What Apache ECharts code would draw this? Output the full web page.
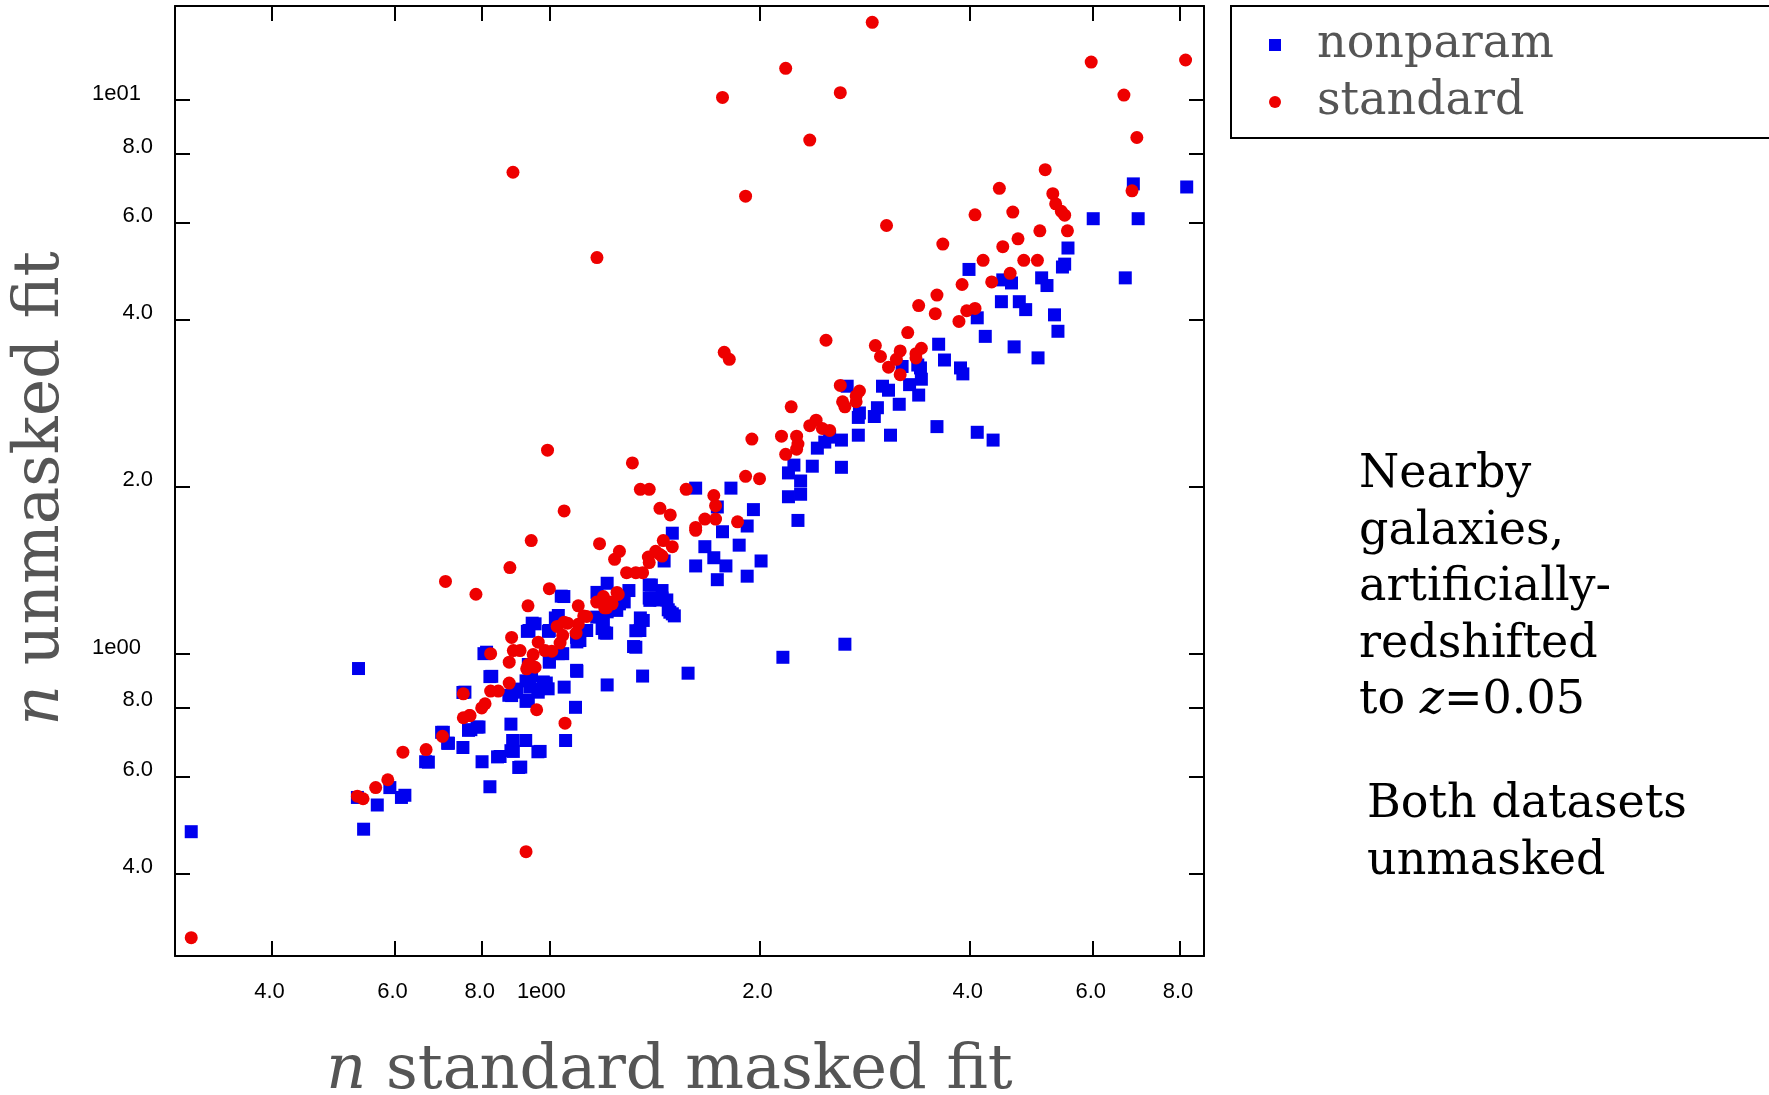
<!DOCTYPE html>
<html><head><meta charset="utf-8">
<script src="https://cdn.jsdelivr.net/npm/echarts@6/dist/echarts.min.js"></script>
<style>html,body{margin:0;padding:0;background:#fff}#c{width:1769px;height:1095px}</style>
</head><body><div id="c"></div>
<script>
// ---- data ----
const xTickValues = [0.4, 0.6, 0.8, 1, 2, 4, 6, 8];
const xTickLabels = ["4.0", "6.0", "8.0", "1e00", "2.0", "4.0", "6.0", "8.0"];
const yTickValues = [0.4, 0.6, 0.8, 1, 2, 4, 6, 8, 10];
const yTickLabels = ["4.0", "6.0", "8.0", "1e00", "2.0", "4.0", "6.0", "8.0", "1e01"];
const xRange = [0.291, 8.66];
const yRange = [0.2845, 14.77];

const nonparam = [
[6.86,7.05],[8.18,6.96],[6.01,6.10],[6.97,6.10],[5.53,5.40],[5.47,5.05],[5.43,4.99],[3.99,4.94],[6.68,4.77],[5.07,4.77],
[5.16,4.62],[4.46,4.73],[4.59,4.67],[4.44,4.32],[4.71,4.32],[4.81,4.18],[5.29,4.09],[4.10,4.04],[5.35,3.82],[4.21,3.74],
[4.63,3.58],[5.01,3.42],[3.61,3.62],[3.68,3.39],[3.88,3.28],[3.91,3.20],[3.40,3.28],[3.20,3.30],[3.37,3.32],[3.41,3.13],
[3.28,3.06],[3.38,2.93],[3.17,2.82],[3.00,3.04],[3.06,2.99],[2.67,3.04],[2.95,2.78],[2.92,2.68],[2.77,2.67],[2.78,2.72],
[3.59,2.57],[4.10,2.51],[4.32,2.43],[3.08,2.48],[2.77,2.48],[2.62,2.43],[2.52,2.46],[2.48,2.41],[2.42,2.35],[2.62,2.17],
[2.38,2.18],[2.24,2.19],[2.20,2.12],[2.29,2.05],[1.62,1.99],[1.82,1.99],[2.29,1.94],[2.20,1.92],
[1.50,1.65],[1.77,1.66],[1.92,1.70],[1.96,1.82],[1.74,1.84],[1.87,1.57],[1.67,1.56],[1.72,1.49],[1.79,1.44],[1.62,1.44],
[1.74,1.36],[1.92,1.38],[2.01,1.47],[2.27,1.74],[1.46,1.47],
[1.50,1.18],[1.48,1.20],[1.45,1.30],[1.39,1.33],[1.39,1.26],[1.42,1.26],[1.45,1.26],[1.35,1.16],[1.33,1.10],[1.32,1.03],
[1.36,0.911],[1.58,0.922],[1.21,1.34],[1.30,1.30],[1.26,1.23],[1.21,1.19],[1.17,1.29],[1.19,1.11],[1.20,1.09],[1.21,0.878],
[1.095,1.05],[1.095,0.929],[1.05,0.87],[1.09,0.80],[1.055,0.697],[1.04,1.27],[1.02,1.16],[1.03,1.0],[1.0,0.97],[0.99,0.885],
[2.16,0.985],[2.65,1.04],
[1.40,1.33],[1.393,1.248],[1.44,1.25],[1.473,1.25],[1.488,1.188],[1.51,1.17],[1.363,1.148],[1.348,1.101],[1.33,1.027],[1.208,1.089],
[1.195,1.132],[1.249,1.197],[1.28,1.24],[1.169,1.164],[1.131,1.101],[1.106,1.056],[1.045,1.0],[1.03,1.172],[1.049,1.268],[1.094,0.933],
[1.094,1.07],
[0.533,0.940],[0.307,0.477],[0.542,0.482],[0.531,0.55],[0.567,0.533],[0.591,0.573],[0.614,0.55],[0.665,0.638],[0.701,0.721],[0.715,0.689],
[0.752,0.677],[0.766,0.727],[0.788,0.737],[0.752,0.851],[0.801,0.638],[0.822,0.575],[0.806,1.0],[0.822,0.909],[0.843,0.651],[0.881,0.746],
[0.881,0.668],[0.886,0.697],[0.925,0.697],[0.904,0.623],[0.963,0.665],[0.875,0.841],[0.898,0.863],[0.926,0.820],[0.926,0.893],[0.963,0.863],
[0.981,0.885],[0.939,0.916],[0.933,0.956],[0.945,1.135],[0.930,1.097],[0.997,1.097],[1.0,0.965],[0.935,1.101],[0.954,1.132],[1.0,1.101],
[0.943,0.913],[0.938,0.87],[0.98,0.889],[0.996,0.864],[0.964,0.852],[0.933,0.823],[0.898,0.852],[0.883,0.84],[0.97,0.666],[0.85,0.652],
[0.91,0.624],[0.772,0.729],[0.793,0.737],[0.757,0.852],[0.827,0.91],[0.813,1.006],[0.888,0.666],[0.671,0.637],[0.621,0.555],[0.705,0.721],
[0.717,0.689]
];

const standard = [
[2.90,13.8],[2.18,11.4],[1.77,10.1],[2.61,10.3],[2.36,8.46],[5.97,11.7],[8.15,11.8],[6.65,10.2],[6.94,8.55],[1.17,5.19],
[0.887,7.40],[1.91,6.70],[3.04,5.93],
[5.13,7.48],[4.41,6.92],[5.26,6.77],[5.31,6.49],[5.41,6.29],[5.47,6.19],[6.83,6.85],[4.07,6.20],[4.61,6.27],[5.04,5.80],[5.52,5.80],
[4.69,5.61],[4.46,5.43],[3.66,5.49],[4.18,5.13],[4.78,5.13],[5.00,5.13],[4.57,4.86],[4.30,4.69],[3.90,4.64],[3.59,4.44],
[3.38,4.25],[3.57,4.11],[3.96,4.16],[4.07,4.20],[3.86,3.98],[3.26,3.80],[2.49,3.68],[1.78,3.50],[1.81,3.40],[2.93,3.60],
[3.18,3.52],[3.41,3.56],[2.98,3.44],[3.14,3.40],[3.35,3.48],[3.35,3.42],[3.06,3.29],[3.18,3.19],[2.61,3.05],[2.78,2.98],
[2.75,2.92],[2.63,2.85],[2.75,2.85],[2.65,2.79],[2.22,2.79],[2.41,2.64],[2.36,2.58],[2.46,2.55],[2.52,2.53],[2.15,2.47],
[2.26,2.47],[1.95,2.44],[2.27,2.39],[2.26,2.34],[2.18,2.29],[1.315,2.21],[0.994,2.33],[1.91,2.09],[2.0,2.07],[1.35,1.98],
[1.39,1.98],[1.57,1.98],[1.72,1.93],
[1.05,1.81],[1.44,1.83],[1.49,1.78],[1.62,1.69],[1.62,1.67],[1.67,1.75],[1.73,1.75],[1.73,1.85],[1.86,1.73],[1.18,1.58],
[1.24,1.48],[1.26,1.53],[1.29,1.40],[1.33,1.40],[1.36,1.40],[1.386,1.494],[1.39,1.46],[1.42,1.53],[1.456,1.60],[1.45,1.50],
[1.50,1.56],[1.44,1.51],
[0.942,1.60],[0.878,1.43],[0.710,1.35],[0.785,1.28],[1.0,1.31],[0.932,1.22],[1.10,1.22],[1.131,1.167],[1.195,1.268],[1.169,1.239],
[1.208,1.21],[1.22,1.24],[1.255,1.279],[1.23,1.23],[1.20,1.21],[1.25,1.29],[1.12,1.17],[1.05,1.14],
[1.026,1.12],[1.062,1.135],[1.092,1.089],[1.10,1.13],[1.045,1.079],[0.883,1.07],[0.964,1.049],[1.036,1.045],[0.888,1.013],[0.908,1.013],
[0.824,1.0],[0.876,0.965],[0.948,0.996],[0.986,1.013],[1.008,1.01],[0.933,0.956],[0.928,0.939],[0.954,0.945],[0.876,0.885],[0.824,0.856],
[0.845,0.856],[0.753,0.846],[0.809,0.812],[0.80,0.798],[0.77,0.773],[0.753,0.766],[0.768,0.773],[0.959,0.792],[1.053,0.749],[0.703,0.709],
[0.666,0.671],[0.617,0.664],[0.587,0.592],[0.564,0.573],[0.531,0.553],[0.541,0.547],[0.926,0.439],[0.307,0.307]
];

// ---- chart ----
function labelFor(values, labels, v) {
  let best = 0, bd = Infinity;
  for (let i = 0; i < values.length; i++) {
    const d = Math.abs(Math.log(values[i]) - Math.log(v));
    if (d < bd) { bd = d; best = i; }
  }
  return labels[best];
}
const tickFont = 'Liberation Sans';
const serif = 'DejaVu Serif';
const lineStyle = {color: '#000', width: 2};

function makeAxis(kind, pos, showLabels) {
  const vals = kind === 'x' ? xTickValues : yTickValues;
  const labs = kind === 'x' ? xTickLabels : yTickLabels;
  const rng = kind === 'x' ? xRange : yRange;
  const ax = {
    type: 'log', logBase: 10, position: pos, min: rng[0], max: rng[1],
    axisLine: {show: true, onZero: false, lineStyle: lineStyle},
    axisTick: {show: true, inside: true, length: 15, lineStyle: lineStyle, customValues: vals},
    minorTick: {show: false}, splitLine: {show: false}, minorSplitLine: {show: false},
    axisLabel: {show: false}
  };
  if (showLabels) {
    if (kind === 'x') {
      ax.axisLabel = {
        show: true, customValues: vals, margin: 25,
        formatter: v => { const t = labelFor(vals, labs, v); return t.indexOf('e') > 0 ? '{d|' + t + '}' : '{m|' + t + '}'; },
        rich: {
          m: {fontFamily: tickFont, fontSize: 22, color: '#000', padding: [0, 4, 0, 0]},
          d: {fontFamily: tickFont, fontSize: 22, color: '#000', padding: [0, 16, 0, 0]}
        }
      };
    } else {
      ax.axisLabel = {
        show: true, customValues: vals, margin: 22,
        formatter: v => { const t = labelFor(vals, labs, v); return t.indexOf('e') > 0 ? '{d|' + t + '}' : '{m|' + t + '}'; },
        rich: {
          m: {fontFamily: tickFont, fontSize: 22, color: '#000', padding: [0, 0, 14, 0]},
          d: {fontFamily: tickFont, fontSize: 22, color: '#000', padding: [0, 12, 12, 0]}
        }
      };
    }
  }
  return ax;
}

const xBottom = makeAxis('x', 'bottom', true);
xBottom.name = '{i|n} standard masked fit';
xBottom.nameLocation = 'middle';
xBottom.nameGap = 85;
xBottom.nameTextStyle = {
  fontFamily: serif, fontSize: 62, color: '#555', padding: [0, 40, 0, 0],
  rich: {i: {fontFamily: serif, fontSize: 62, color: '#555', fontStyle: 'italic'}}
};
const yLeft = makeAxis('y', 'left', true);
yLeft.name = '{i|n} unmasked fit';
yLeft.nameLocation = 'middle';
yLeft.nameRotate = 90;
yLeft.nameGap = 102;
yLeft.nameTextStyle = {
  fontFamily: serif, fontSize: 63, color: '#555', padding: [0, 15, 0, 0],
  rich: {i: {fontFamily: serif, fontSize: 63, color: '#555', fontStyle: 'italic'}}
};

const chart = echarts.init(document.getElementById('c'), null, {renderer: 'canvas'});
chart.setOption({
  animation: false,
  backgroundColor: '#fff',
  grid: {left: 175, top: 6, right: 565, bottom: 139, containLabel: false, outerBoundsMode: 'none'},
  xAxis: [xBottom, makeAxis('x', 'top', false)],
  yAxis: [yLeft, makeAxis('y', 'right', false)],
  legend: {
    orient: 'vertical', left: 1231, top: 6,
    data: [
      {name: 'nonparam', icon: 'rect'},
      {name: 'standard', icon: 'circle'}
    ],
    itemWidth: 12, itemHeight: 12, itemGap: 11,
    padding: [16, 230, 13, 38],
    borderColor: '#000', borderWidth: 2, backgroundColor: '#fff',
    selectedMode: false,
    textStyle: {fontFamily: serif, fontSize: 46, color: '#555', lineHeight: 44, padding: [0, 0, 0, 31]}
  },
  series: [
    {name: 'nonparam', type: 'scatter', symbol: 'rect', symbolSize: 13, xAxisIndex: 0, yAxisIndex: 0,
     itemStyle: {color: '#0000ee', opacity: 1}, emphasis: {disabled: true}, z: 2, data: nonparam},
    {name: 'standard', type: 'scatter', symbol: 'circle', symbolSize: 13, xAxisIndex: 0, yAxisIndex: 0,
     itemStyle: {color: '#ee0000', opacity: 1}, emphasis: {disabled: true}, z: 3, data: standard}
  ],
  graphic: [
    {type: 'text', left: 1359, top: 447, style: {
      text: 'Nearby\ngalaxies,\nartificially-\nredshifted\nto {i|z}=0.05',
      fontFamily: serif, fontSize: 46, fill: '#000', lineHeight: 56.5,
      rich: {i: {fontFamily: serif, fontSize: 46, fill: '#000', fontStyle: 'italic', lineHeight: 56.5}}
    }},
    {type: 'text', left: 1367, top: 777, style: {
      text: 'Both datasets\nunmasked',
      fontFamily: serif, fontSize: 46, fill: '#000', lineHeight: 56.5
    }}
  ]
});
</script>
</body></html>
